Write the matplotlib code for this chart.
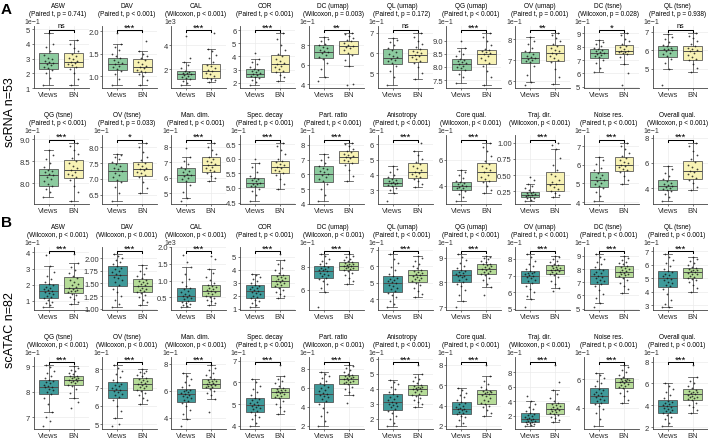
import numpy as np
import matplotlib.pyplot as plt
from matplotlib import transforms

plt.rcParams['font.family'] = ['Liberation Sans', 'DejaVu Sans']

# ---- data -------------------------------------------------------------
METRICS = ["ASW", "DAV", "CAL", "COR", "DC (umap)", "QL (umap)", "QG (umap)",
           "OV (umap)", "DC (tsne)", "QL (tsne)", "QG (tsne)", "OV (tsne)",
           "Man. dim.", "Spec. decay", "Part. ratio", "Anisotropy",
           "Core qual.", "Traj. dir.", "Noise res.", "Overall qual."]
GROUPS = ["Views", "BN"]

RNA_TEST = ["Paired t, p = 0.741", "Paired t, p < 0.001", "Wilcoxon, p < 0.001",
            "Paired t, p < 0.001", "Wilcoxon, p = 0.003", "Paired t, p = 0.172",
            "Paired t, p < 0.001", "Paired t, p = 0.001", "Wilcoxon, p = 0.028",
            "Paired t, p = 0.938", "Paired t, p < 0.001", "Paired t, p = 0.033",
            "Paired t, p < 0.001", "Paired t, p < 0.001", "Paired t, p < 0.001",
            "Paired t, p < 0.001", "Wilcoxon, p < 0.001", "Wilcoxon, p < 0.001",
            "Paired t, p < 0.001", "Wilcoxon, p < 0.001"]
ATAC_TEST = ["Wilcoxon, p < 0.001", "Wilcoxon, p < 0.001", "Wilcoxon, p < 0.001",
             "Paired t, p < 0.001", "Wilcoxon, p < 0.001", "Paired t, p < 0.001",
             "Paired t, p < 0.001", "Paired t, p < 0.001", "Paired t, p < 0.001",
             "Paired t, p < 0.001", "Wilcoxon, p < 0.001", "Wilcoxon, p < 0.001",
             "Wilcoxon, p < 0.001", "Paired t, p < 0.001", "Wilcoxon, p < 0.001",
             "Paired t, p < 0.001", "Paired t, p < 0.001", "Wilcoxon, p < 0.001",
             "Paired t, p < 0.001", "Paired t, p < 0.001"]

RNA_SIG = ["ns", "***", "***", "***", "**", "ns", "***", "**", "*", "ns",
           "***", "*", "***", "***", "***", "***", "***", "***", "***", "***"]
ATAC_SIG = ["***"] * 20

RNA_EXP = ["1e-1", "", "1e3", "", "1e-1", "1e-1", "1e-1", "1e-1", "1e-1", "1e-1",
           "1e-1", "1e-1", "1e-1", "1e-1", "1e-1", "1e-1", "1e-1", "", "1e-1", "1e-1"]
ATAC_EXP = ["1e-1", "", "1e3", "", "1e-1", "1e-1", "1e-1", "1e-1", "1e-1", "1e-1",
            "1e-1", "1e-1", "1e-1", "1e-1", "1e-1", "1e-1", "1e-1", "1e-1", "1e-1", "1e-1"]

RNA_TICKS = ["1 2 3 4 5", "1.0 1.5 2.0", "2 4", "2 3 4 5 6", "4 6 8", "5 6 7",
             "7.5 8.0 8.5 9.0", "6 7 8", "5 6 7 8 9", "5 6 7",
             "8.0 8.5 9.0", "6.5 7.0 7.5 8.0", "5 6 7 8", "4.5 5.0 5.5 6.0 6.5",
             "4 5 6 7 8", "3 4 5 6", "4 6", "0.25 0.50 0.75 1.00", "4 5 6 7", "4 6 8"]
ATAC_TICKS = ["1 2 3 4", "1.00 1.25 1.50 1.75 2.00", "0.5 1.0 1.5 2.0", "1 2 3 4 5",
              "6 8", "4 5 6 7", "7 8 9", "5 6 7 8", "5 6 7 8 9", "3 4 5 6 7",
              "7 8 9", "5 6 7 8", "4 6 8", "4 5 6 7", "2 4 6 8", "2 3 4 5 6",
              "2 4 6 8", "2 4 6 8", "4 6", "2 4 6 8"]

# box stats: whislo, q1, median, q3, whishi
RNA_BOX_VIEWS = [(1.2, 2.3, 2.7, 3.35, 4.75), (0.8, 1.15, 1.28, 1.42, 1.73),
                 (0.7, 1.25, 1.6, 1.9, 2.65), (1.8, 2.4, 2.7, 3.05, 3.8),
                 (4.8, 6.7, 7.35, 8.0, 8.9), (4.4, 5.45, 5.75, 6.2, 6.75),
                 (7.38, 7.9, 8.12, 8.3, 8.72), (5.95, 6.85, 7.1, 7.4, 8.1),
                 (6.1, 7.15, 7.55, 7.85, 8.5), (5.0, 5.65, 6.0, 6.25, 6.9),
                 (7.7, 7.95, 8.18, 8.32, 8.75), (6.3, 6.95, 7.25, 7.5, 7.8),
                 (4.7, 5.75, 6.2, 6.6, 7.35), (4.55, 5.03, 5.17, 5.35, 5.85),
                 (4.2, 5.5, 6.05, 6.55, 7.4), (2.8, 3.25, 3.5, 3.8, 4.55),
                 (2.8, 3.65, 4.0, 4.3, 5.25), (0.1, 0.16, 0.2, 0.24, 0.36),
                 (4.05, 4.8, 5.2, 5.6, 6.45), (3.0, 3.85, 4.2, 4.65, 5.75)]
RNA_BOX_BN = [(1.2, 2.4, 2.8, 3.35, 4.25), (0.8, 1.1, 1.2, 1.38, 1.57),
              (1.0, 1.3, 1.9, 2.45, 3.7), (2.1, 2.85, 3.4, 4.1, 5.8),
              (5.9, 7.1, 7.9, 8.5, 9.3), (4.7, 5.55, 5.9, 6.2, 7.0),
              (7.3, 8.1, 8.5, 8.65, 9.3), (5.85, 6.95, 7.35, 7.7, 8.3),
              (6.7, 7.45, 7.65, 8.1, 9.05), (4.85, 5.5, 5.95, 6.25, 6.95),
              (7.6, 8.12, 8.3, 8.52, 8.92), (6.55, 7.1, 7.3, 7.55, 8.15),
              (5.8, 6.35, 6.8, 7.3, 8.25), (4.97, 5.5, 5.73, 5.93, 6.55),
              (5.55, 6.75, 7.2, 7.55, 8.15), (3.2, 3.8, 4.2, 4.75, 5.55),
              (3.4, 4.35, 5.05, 5.75, 7.35), (0.16, 0.26, 0.36, 0.54, 0.9),
              (4.95, 5.65, 6.0, 6.4, 7.2), (3.85, 4.7, 5.35, 6.15, 7.6)]
ATAC_BOX_VIEWS = [(0.6, 1.2, 1.6, 2.05, 3.15), (1.03, 1.45, 1.67, 1.85, 2.08),
                  (0.2, 0.38, 0.55, 0.78, 1.4), (1.1, 1.85, 2.35, 2.85, 3.65),
                  (5.8, 7.0, 7.65, 8.1, 9.1), (3.5, 4.45, 5.0, 5.4, 6.75),
                  (7.25, 8.0, 8.3, 8.5, 9.15), (5.6, 6.55, 7.0, 7.3, 8.3),
                  (5.45, 6.85, 7.45, 8.0, 9.15), (2.85, 4.35, 5.0, 5.55, 6.8),
                  (7.2, 7.9, 8.2, 8.45, 9.05), (5.35, 6.45, 6.85, 7.3, 8.25),
                  (3.9, 5.2, 5.75, 6.1, 7.3), (4.0, 4.65, 4.95, 5.3, 6.15),
                  (2.0, 4.5, 5.4, 6.35, 7.7), (1.5, 2.6, 3.1, 3.65, 4.6),
                  (2.0, 3.2, 3.7, 4.4, 5.7), (0.6, 1.1, 1.6, 2.35, 4.0),
                  (2.7, 4.3, 4.8, 5.35, 6.45), (2.1, 3.3, 3.9, 4.45, 6.0)]
ATAC_BOX_BN = [(0.8, 1.5, 1.8, 2.45, 3.35), (1.07, 1.33, 1.45, 1.58, 1.87),
               (0.28, 0.53, 0.7, 0.88, 1.35), (1.85, 2.65, 3.1, 3.6, 4.7),
               (6.5, 7.7, 8.05, 8.4, 9.1), (4.1, 5.05, 5.45, 5.8, 6.65),
               (7.8, 8.34, 8.55, 8.76, 9.05), (6.25, 7.1, 7.35, 7.65, 8.2),
               (6.2, 7.4, 7.8, 8.25, 9.0), (4.0, 5.0, 5.45, 5.75, 6.6),
               (7.75, 8.25, 8.45, 8.62, 9.0), (6.1, 6.85, 7.2, 7.55, 8.0),
               (5.4, 6.2, 6.5, 6.85, 7.9), (4.55, 5.3, 5.55, 5.75, 6.3),
               (5.2, 6.45, 6.9, 7.35, 8.4), (2.8, 3.55, 4.0, 4.25, 5.0),
               (3.0, 4.2, 5.1, 5.5, 6.9), (1.2, 2.3, 3.0, 3.8, 5.5),
               (4.3, 5.4, 5.8, 6.05, 7.0), (3.3, 4.5, 5.0, 5.45, 6.6)]

# per-run values (shown in axis units)
RNA_PTS_VIEWS = [
    "1.2 1.7 2.0 2.2 2.35 2.45 2.55 2.6 2.68 2.75 2.85 2.95 3.05 3.25 3.5 3.8 4.0 4.75",
    "0.8 0.95 1.05 1.12 1.17 1.2 1.24 1.27 1.3 1.33 1.37 1.4 1.45 1.5 1.58 1.65 1.73 1.97",
    "0.7 0.9 1.05 1.2 1.3 1.4 1.5 1.55 1.62 1.68 1.75 1.82 1.9 2.1 2.35 2.65 2.9 4.7",
    "1.8 2.05 2.2 2.35 2.45 2.55 2.62 2.68 2.72 2.8 2.9 2.98 3.05 3.2 3.4 3.6 3.8 4.3",
    "4.3 4.8 5.6 6.2 6.6 6.8 7.0 7.2 7.3 7.4 7.55 7.7 7.85 8.0 8.2 8.45 8.7 8.9",
    "4.4 4.8 5.1 5.35 5.5 5.6 5.65 5.72 5.78 5.85 5.95 6.05 6.15 6.25 6.4 6.55 6.65 6.75",
    "7.38 7.6 7.75 7.88 7.95 8.0 8.05 8.1 8.14 8.18 8.22 8.27 8.32 8.4 8.5 8.6 8.72 9.0",
    "5.8 5.95 6.3 6.7 6.9 6.95 7.0 7.05 7.1 7.15 7.22 7.3 7.38 7.45 7.6 7.75 7.9 8.1",
    "6.1 6.4 6.75 7.0 7.2 7.3 7.4 7.48 7.55 7.6 7.68 7.75 7.82 7.9 8.05 8.2 8.35 8.5",
    "4.1 5.0 5.3 5.55 5.7 5.8 5.88 5.95 6.0 6.05 6.1 6.15 6.22 6.3 6.45 6.6 6.75 6.9",
    "7.7 7.8 7.87 7.93 7.98 8.05 8.1 8.15 8.18 8.21 8.25 8.28 8.31 8.38 8.45 8.55 8.65 8.75",
    "6.3 6.55 6.75 6.9 6.98 7.05 7.12 7.18 7.25 7.3 7.36 7.42 7.48 7.55 7.62 7.7 7.75 7.8",
    "4.5 4.7 5.1 5.5 5.8 5.9 6.0 6.1 6.2 6.25 6.35 6.45 6.55 6.7 6.9 7.1 7.35 7.9",
    "4.55 4.75 4.88 4.98 5.05 5.08 5.12 5.15 5.18 5.22 5.26 5.3 5.34 5.42 5.55 5.7 5.85 6.0",
    "4.2 4.6 5.0 5.35 5.55 5.7 5.85 5.95 6.05 6.15 6.25 6.35 6.45 6.6 6.8 7.0 7.2 7.4",
    "2.3 2.8 3.0 3.15 3.28 3.35 3.4 3.45 3.5 3.55 3.6 3.68 3.75 3.85 4.0 4.2 4.4 4.55",
    "2.8 3.1 3.35 3.55 3.7 3.78 3.85 3.92 4.0 4.05 4.1 4.18 4.25 4.4 4.6 4.85 5.05 5.25",
    "0.1 0.12 0.14 0.15 0.17 0.18 0.19 0.2 0.21 0.22 0.23 0.24 0.27 0.3 0.33 0.36 0.42 0.47",
    "4.05 4.3 4.55 4.75 4.85 4.95 5.05 5.12 5.2 5.28 5.35 5.45 5.55 5.7 5.85 6.05 6.25 6.45",
    "3.0 3.3 3.55 3.8 3.9 3.98 4.05 4.12 4.2 4.28 4.36 4.45 4.6 4.75 4.95 5.2 5.5 5.75",
]
RNA_PTS_BN = [
    "1.2 1.6 2.0 2.3 2.45 2.55 2.65 2.72 2.78 2.85 2.95 3.05 3.2 3.3 3.5 3.75 4.0 4.25",
    "0.8 0.92 1.0 1.06 1.1 1.12 1.15 1.18 1.2 1.23 1.28 1.32 1.36 1.4 1.45 1.5 1.57 1.78",
    "1.0 1.1 1.2 1.3 1.45 1.6 1.75 1.85 1.95 2.1 2.25 2.4 2.6 2.9 3.2 3.5 3.7 5.0",
    "2.1 2.4 2.6 2.8 2.9 3.05 3.2 3.3 3.4 3.5 3.65 3.8 4.0 4.2 4.5 4.9 5.3 5.8",
    "3.9 4.0 5.9 6.5 7.0 7.2 7.5 7.7 7.85 7.95 8.1 8.3 8.45 8.6 8.8 9.0 9.15 9.3",
    "4.7 5.0 5.3 5.5 5.6 5.7 5.78 5.85 5.92 5.98 6.05 6.1 6.18 6.3 6.45 6.6 6.8 7.0",
    "7.3 7.6 7.85 8.05 8.15 8.25 8.35 8.42 8.48 8.52 8.56 8.6 8.64 8.7 8.85 9.0 9.15 9.3",
    "5.85 6.2 6.6 6.9 7.0 7.1 7.2 7.28 7.35 7.42 7.5 7.58 7.65 7.75 7.9 8.05 8.2 8.3",
    "5.1 6.0 6.7 7.2 7.45 7.5 7.58 7.62 7.66 7.72 7.85 7.95 8.05 8.2 8.4 8.6 8.85 9.05",
    "4.85 5.05 5.25 5.45 5.55 5.65 5.75 5.85 5.95 6.0 6.08 6.15 6.22 6.35 6.5 6.65 6.8 6.95",
    "7.6 7.8 7.95 8.08 8.14 8.18 8.22 8.26 8.3 8.34 8.4 8.45 8.5 8.58 8.66 8.75 8.85 8.92",
    "6.55 6.7 6.9 7.05 7.12 7.18 7.22 7.27 7.3 7.34 7.4 7.46 7.52 7.6 7.7 7.85 8.0 8.15",
    "5.8 5.95 6.1 6.3 6.4 6.5 6.6 6.7 6.8 6.9 7.0 7.1 7.2 7.35 7.55 7.8 8.0 8.25",
    "4.97 5.15 5.3 5.45 5.52 5.58 5.63 5.68 5.73 5.77 5.82 5.87 5.92 6.0 6.15 6.3 6.45 6.55",
    "5.55 5.9 6.3 6.65 6.8 6.9 7.0 7.1 7.2 7.25 7.3 7.4 7.5 7.6 7.75 7.9 8.05 8.15",
    "3.2 3.4 3.6 3.75 3.85 3.95 4.05 4.12 4.2 4.3 4.45 4.6 4.7 4.85 5.05 5.3 5.55 6.1",
    "3.4 3.7 4.0 4.25 4.4 4.55 4.7 4.85 5.05 5.2 5.35 5.5 5.7 5.9 6.3 6.7 7.0 7.35",
    "0.16 0.2 0.23 0.25 0.28 0.31 0.34 0.36 0.39 0.43 0.48 0.52 0.58 0.66 0.76 0.9 0.97 1.0",
    "4.95 5.2 5.4 5.6 5.7 5.8 5.88 5.95 6.0 6.08 6.15 6.25 6.35 6.5 6.65 6.85 7.0 7.2",
    "3.85 4.1 4.4 4.65 4.8 4.95 5.1 5.25 5.35 5.5 5.65 5.85 6.05 6.3 6.6 6.95 7.3 7.6",
]
ATAC_PTS_VIEWS = [
    "0.6 0.75 0.85 0.95 1.05 1.15 1.25 1.32 1.4 1.47 1.53 1.58 1.65 1.72 1.8 1.88 1.95 2.02 2.15 2.35 2.55 2.8 3.15 3.85",
    "1.03 1.1 1.18 1.26 1.33 1.4 1.47 1.52 1.56 1.6 1.63 1.66 1.69 1.72 1.75 1.78 1.81 1.84 1.88 1.92 1.96 2.0 2.04 2.08",
    "0.2 0.24 0.28 0.31 0.34 0.37 0.4 0.44 0.48 0.51 0.54 0.57 0.6 0.65 0.7 0.74 0.78 0.85 0.95 1.05 1.2 1.4 1.55 1.75",
    "1.1 1.25 1.4 1.55 1.7 1.8 1.9 2.0 2.1 2.2 2.28 2.34 2.4 2.48 2.56 2.64 2.72 2.8 2.95 3.1 3.25 3.4 3.55 3.65",
    "4.5 5.8 6.2 6.5 6.75 6.95 7.05 7.2 7.3 7.4 7.5 7.6 7.68 7.75 7.82 7.9 7.98 8.06 8.2 8.35 8.5 8.7 8.9 9.1",
    "3.5 3.7 3.9 4.1 4.25 4.4 4.5 4.6 4.7 4.8 4.88 4.96 5.03 5.1 5.16 5.22 5.3 5.38 5.55 5.75 5.95 6.2 6.45 6.75",
    "7.0 7.25 7.5 7.7 7.85 7.95 8.03 8.1 8.16 8.21 8.25 8.28 8.32 8.36 8.4 8.44 8.47 8.5 8.58 8.68 8.78 8.9 9.02 9.15",
    "5.1 5.6 5.8 6.0 6.2 6.4 6.55 6.65 6.75 6.85 6.92 6.98 7.03 7.08 7.13 7.18 7.23 7.29 7.4 7.55 7.7 7.9 8.1 8.3",
    "5.1 5.45 5.8 6.1 6.4 6.7 6.9 7.0 7.1 7.2 7.3 7.4 7.5 7.6 7.7 7.8 7.9 7.98 8.15 8.35 8.55 8.75 8.95 9.15",
    "2.85 2.9 3.1 3.4 3.8 4.2 4.4 4.52 4.64 4.76 4.86 4.96 5.05 5.15 5.25 5.35 5.45 5.53 5.7 5.9 6.1 6.35 6.6 6.8",
    "6.65 6.85 7.0 7.2 7.5 7.75 7.92 8.0 8.06 8.12 8.17 8.2 8.24 8.28 8.32 8.36 8.4 8.44 8.52 8.62 8.72 8.82 8.95 9.05",
    "4.9 5.0 5.35 5.7 6.0 6.3 6.5 6.6 6.68 6.75 6.8 6.85 6.92 7.0 7.08 7.15 7.22 7.3 7.45 7.6 7.75 7.9 8.1 8.25",
    "3.4 3.9 4.3 4.6 4.9 5.1 5.25 5.35 5.45 5.55 5.63 5.7 5.78 5.84 5.9 5.96 6.02 6.08 6.25 6.45 6.65 6.85 7.1 7.3",
    "4.0 4.15 4.3 4.42 4.52 4.62 4.7 4.76 4.82 4.87 4.91 4.95 5.0 5.06 5.12 5.18 5.24 5.3 5.42 5.55 5.7 5.85 6.0 6.15",
    "2.0 2.5 3.0 3.5 3.9 4.3 4.6 4.8 5.0 5.1 5.2 5.35 5.5 5.65 5.8 5.95 6.1 6.3 6.5 6.75 7.0 7.25 7.5 7.7",
    "1.5 1.7 1.95 2.15 2.35 2.5 2.65 2.74 2.82 2.9 2.98 3.05 3.14 3.24 3.33 3.42 3.52 3.62 3.8 3.95 4.1 4.3 4.45 4.6",
    "2.0 2.3 2.6 2.85 3.0 3.15 3.25 3.35 3.45 3.55 3.62 3.68 3.78 3.9 4.0 4.12 4.25 4.38 4.6 4.8 5.0 5.25 5.5 5.7",
    "0.6 0.7 0.8 0.9 1.0 1.08 1.17 1.25 1.35 1.43 1.5 1.58 1.7 1.82 1.95 2.08 2.2 2.33 2.6 2.9 3.2 3.6 4.0 4.7",
    "2.7 3.2 3.6 3.9 4.1 4.25 4.35 4.45 4.55 4.63 4.71 4.78 4.86 4.94 5.03 5.12 5.22 5.32 5.5 5.7 5.9 6.1 6.3 6.45",
    "2.1 2.4 2.7 2.95 3.1 3.25 3.35 3.45 3.55 3.65 3.75 3.85 3.93 4.0 4.08 4.18 4.3 4.42 4.65 4.9 5.2 5.5 5.8 6.0",
]
ATAC_PTS_BN = [
    "0.8 0.95 1.1 1.25 1.35 1.45 1.52 1.58 1.63 1.68 1.73 1.78 1.85 1.95 2.05 2.18 2.3 2.42 2.55 2.7 2.9 3.1 3.35 3.9",
    "1.07 1.13 1.18 1.23 1.27 1.31 1.34 1.36 1.38 1.4 1.42 1.44 1.46 1.48 1.5 1.52 1.54 1.57 1.6 1.64 1.69 1.74 1.8 1.87",
    "0.28 0.33 0.38 0.43 0.47 0.51 0.55 0.59 0.62 0.65 0.68 0.71 0.74 0.77 0.8 0.84 0.88 0.94 1.02 1.12 1.22 1.35 1.65 1.72",
    "1.85 2.0 2.15 2.3 2.45 2.6 2.7 2.8 2.88 2.96 3.03 3.1 3.18 3.26 3.35 3.45 3.52 3.6 3.75 3.95 4.15 4.4 4.7 5.2",
    "6.5 6.8 7.05 7.3 7.5 7.65 7.72 7.8 7.86 7.92 7.98 8.03 8.08 8.14 8.2 8.27 8.33 8.4 8.5 8.6 8.7 8.82 8.95 9.1",
    "4.1 4.3 4.5 4.7 4.85 5.0 5.08 5.15 5.22 5.3 5.36 5.42 5.48 5.54 5.6 5.66 5.72 5.78 5.88 6.0 6.15 6.3 6.5 6.65",
    "7.5 7.8 7.95 8.1 8.2 8.3 8.36 8.4 8.44 8.48 8.52 8.55 8.58 8.62 8.66 8.7 8.73 8.76 8.82 8.88 8.93 8.97 9.01 9.05",
    "6.05 6.25 6.5 6.7 6.9 7.05 7.12 7.18 7.23 7.28 7.32 7.35 7.39 7.43 7.47 7.52 7.57 7.63 7.72 7.8 7.9 8.0 8.1 8.2",
    "6.2 6.5 6.75 6.95 7.15 7.35 7.45 7.52 7.6 7.66 7.72 7.78 7.84 7.9 7.98 8.06 8.15 8.24 8.35 8.45 8.57 8.7 8.85 9.0",
    "4.0 4.25 4.5 4.7 4.85 4.97 5.05 5.12 5.2 5.28 5.35 5.42 5.48 5.53 5.58 5.63 5.68 5.73 5.85 5.98 6.12 6.28 6.45 6.6",
    "7.35 7.6 7.75 7.95 8.1 8.22 8.28 8.32 8.36 8.4 8.43 8.46 8.49 8.52 8.55 8.58 8.6 8.62 8.68 8.74 8.8 8.87 8.94 9.0",
    "6.1 6.3 6.45 6.6 6.72 6.83 6.9 6.97 7.03 7.08 7.13 7.18 7.24 7.3 7.36 7.42 7.48 7.54 7.62 7.7 7.78 7.85 7.93 8.0",
    "4.45 5.4 5.65 5.85 6.0 6.15 6.25 6.3 6.35 6.4 6.45 6.5 6.56 6.62 6.68 6.74 6.8 6.85 7.0 7.15 7.3 7.5 7.7 7.9",
    "4.55 4.7 4.85 5.0 5.15 5.28 5.34 5.39 5.43 5.47 5.51 5.55 5.58 5.61 5.64 5.67 5.7 5.75 5.85 5.95 6.05 6.15 6.3 6.8",
    "4.4 5.2 5.55 5.85 6.1 6.35 6.5 6.58 6.66 6.74 6.82 6.9 6.98 7.05 7.12 7.19 7.26 7.34 7.5 7.7 7.9 8.1 8.25 8.4",
    "2.8 2.95 3.1 3.25 3.38 3.5 3.6 3.68 3.76 3.83 3.9 3.97 4.02 4.06 4.1 4.14 4.18 4.24 4.38 4.5 4.65 4.8 5.0 5.6",
    "3.0 3.3 3.6 3.85 4.0 4.15 4.3 4.45 4.6 4.75 4.9 5.05 5.15 5.22 5.3 5.36 5.42 5.48 5.65 5.85 6.1 6.4 6.9 8.0",
    "1.2 1.45 1.7 1.9 2.1 2.27 2.4 2.5 2.62 2.74 2.86 2.98 3.1 3.22 3.36 3.5 3.64 3.78 4.1 4.5 5.0 5.5 6.6 9.0",
    "4.3 4.55 4.8 5.0 5.18 5.35 5.45 5.52 5.6 5.67 5.73 5.79 5.84 5.88 5.92 5.96 6.0 6.04 6.18 6.32 6.48 6.64 6.82 7.0",
    "3.3 3.6 3.85 4.05 4.25 4.45 4.55 4.65 4.73 4.8 4.88 4.95 5.03 5.1 5.17 5.24 5.32 5.42 5.6 5.8 6.0 6.25 6.6 7.7",
]

# ---- layout / style ---------------------------------------------------
W, H = 708, 439
ROW_TOP = [27, 136, 248, 358]
ROW_BOT = [89, 205, 311, 430]
CELL0, CELLW, LABW, PANW = 20, 68.8, 13.5, 55
COLORS = {"rna": ("#8ccb9f", "#f7f2b4"), "atac": ("#3f9a9a", "#b6dc98")}
EDGE = "#4d4d4d"

fig = plt.figure(figsize=(W / 100, H / 100), dpi=100)


def draw_panel(ax, k, test, sig, exp, ticks, bv, bb, pv, pb, cols):
    stats = []
    for b in (bv, bb):
        stats.append(dict(whislo=b[0], q1=b[1], med=b[2], q3=b[3], whishi=b[4], fliers=[]))
    bp = ax.bxp(stats, positions=[1, 2], widths=0.75, patch_artist=True,
                showfliers=False, capwidths=0.35,
                boxprops=dict(edgecolor=EDGE, linewidth=0.55),
                medianprops=dict(color=EDGE, linewidth=0.7),
                whiskerprops=dict(color=EDGE, linewidth=0.55),
                capprops=dict(color=EDGE, linewidth=0.55))
    for patch, c in zip(bp["boxes"], cols):
        patch.set_facecolor(c)
    allv = []
    for i, s in enumerate((pv, pb)):
        vals = np.array([float(v) for v in s.split()])
        n = len(vals)
        jit = ((np.arange(n) * 0.618034 + 0.3 * i) % 1 - 0.5) * 0.42
        ax.scatter(i + 1 + jit, vals, s=1.6, color="#111111", alpha=0.8,
                   linewidths=0, zorder=4)
        allv.extend(vals)
    lo, hi = min(allv), max(allv)
    r = hi - lo
    ax.set_ylim(lo - 0.05 * r, hi + 0.13 * r)
    ax.set_xlim(0.4, 2.6)
    tl = ticks.split()
    ax.set_yticks([float(t) for t in tl])
    ax.set_yticklabels(tl)
    ax.set_xticks([1, 2])
    ax.set_xticklabels(GROUPS)
    ax.grid(True, color="#ebebeb", linewidth=0.5)
    ax.set_axisbelow(True)
    for sp in ("top", "right"):
        ax.spines[sp].set_visible(False)
    for sp in ("left", "bottom"):
        ax.spines[sp].set_color("#444444")
        ax.spines[sp].set_linewidth(0.6)
    ax.tick_params(length=1.5, width=0.5, pad=1, labelsize=5.5,
                   colors="#444444", labelcolor="#333333")
    # two-line panel title, lifted a few points above the axes
    title_tr = ax.transAxes + transforms.ScaledTranslation(0, 6.5 / 72,
                                                           fig.dpi_scale_trans)
    ax.text(0.445, 1.0, METRICS[k] + "\n(" + test + ")", transform=title_tr,
            fontsize=4.7, ha="center", va="bottom", linespacing=1.2)
    tr = transforms.blended_transform_factory(ax.transData, ax.transAxes)
    ax.plot([1, 1, 2, 2], [0.905, 0.93, 0.93, 0.905], transform=tr, color="black",
            linewidth=0.75, clip_on=False, zorder=5)
    if sig == "ns":
        ax.text(1.5, 0.945, sig, transform=tr, ha="center", va="bottom",
                fontsize=5.2, clip_on=False)
    else:
        ax.text(1.5, 0.91, sig, transform=tr, ha="center", va="bottom",
                fontsize=6.8, clip_on=False)
    if exp:
        ax.text(-0.02, 1.02, exp.replace("-", "\u2212"), transform=ax.transAxes,
                ha="center", va="bottom", fontsize=5.0, color="#333333")


datasets = [
    ("rna", RNA_TEST, RNA_SIG, RNA_EXP, RNA_TICKS, RNA_BOX_VIEWS, RNA_BOX_BN,
     RNA_PTS_VIEWS, RNA_PTS_BN),
    ("atac", ATAC_TEST, ATAC_SIG, ATAC_EXP, ATAC_TICKS, ATAC_BOX_VIEWS, ATAC_BOX_BN,
     ATAC_PTS_VIEWS, ATAC_PTS_BN),
]

for r in range(4):
    key, tests, sigs, exps, ticks, bv, bb, pv, pb = datasets[r // 2]
    for c in range(10):
        k = (r % 2) * 10 + c
        left = CELL0 + c * CELLW + LABW
        top, bot = ROW_TOP[r], ROW_BOT[r]
        ax = fig.add_axes([left / W, 1 - bot / H, PANW / W, (bot - top) / H])
        draw_panel(ax, k, tests[k], sigs[k], exps[k], ticks[k], bv[k], bb[k],
                   pv[k], pb[k], COLORS[key])

fig.text(1 / W, 1 - 3 / H, "A", fontsize=11, fontweight="bold", va="top", ha="left")
fig.text(1 / W, 1 - 216 / H, "B", fontsize=11, fontweight="bold", va="top", ha="left")
fig.text(10 / W, 1 - 112 / H, "scRNA n=53", fontsize=9, rotation=90,
         ha="center", va="center")
fig.text(10 / W, 1 - 330 / H, "scATAC n=82", fontsize=9, rotation=90,
         ha="center", va="center")

fig.savefig("out.png", dpi=100)
